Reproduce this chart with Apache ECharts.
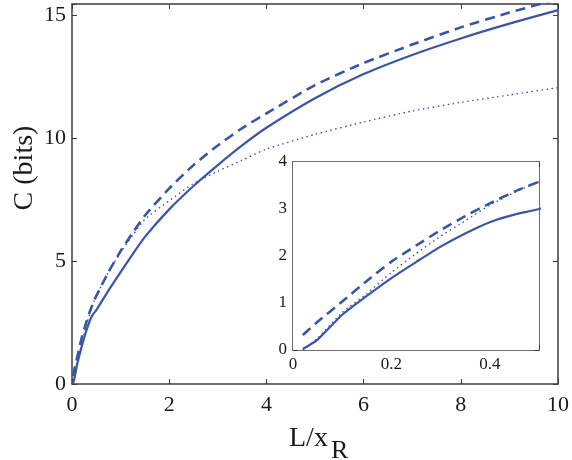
<!DOCTYPE html>
<html lang="en">
<head>
  <meta charset="UTF-8" />
  <title>C (bits) vs L/xR</title>
  <script src="https://cdn.jsdelivr.net/npm/echarts@6/dist/echarts.min.js"></script>
  <style>
    html, body { margin: 0; padding: 0; background: #fff; }
    #main { width: 572px; height: 460px; }
  </style>
</head>
<body>
  <div id="main"></div>
  <script type="text/javascript">
    // L/x_R sample points
    var xs = [0.02, 0.05, 0.1, 0.15, 0.2, 0.25, 0.3, 0.35, 0.4, 0.45, 0.5, 0.75, 1, 1.25, 1.5, 2, 2.5, 3, 3.5, 4, 5, 6, 7, 8, 9, 10];
    // solid curve
    var solidC = [0.02, 0.22, 0.75, 1.15, 1.53, 1.87, 2.2, 2.48, 2.72, 2.88, 3.0, 3.8, 4.55, 5.28, 5.98, 7.1, 8.05, 8.9, 9.7, 10.42, 11.62, 12.6, 13.38, 14.05, 14.65, 15.2];
    // dashed curve
    var dashedC = [0.32, 0.6, 1.03, 1.47, 1.88, 2.22, 2.55, 2.85, 3.12, 3.37, 3.58, 4.55, 5.4, 6.15, 6.85, 7.95, 8.9, 9.7, 10.4, 11.0, 12.15, 13.05, 13.8, 14.5, 15.1, 15.65];
    // dotted curve
    var dottedC = [0.0, 0.25, 0.8, 1.2, 1.65, 2.05, 2.42, 2.75, 3.08, 3.35, 3.58, 4.55, 5.35, 6.05, 6.7, 7.45, 8.15, 8.65, 9.1, 9.55, 10.15, 10.65, 11.1, 11.45, 11.75, 12.05];

    var mainTicksX = [0, 2, 4, 6, 8, 10];
    var mainTicksY = [0, 5, 10, 15];
    var insetTicksX = [0, 0.2, 0.4];
    var insetTicksY = [0, 1, 2, 3, 4];

    var blue = '#3a55a6';
    var axisColor = '#3c3c3c';
    var serif = "'Liberation Serif', 'DejaVu Serif', serif";

    function pairs(ys) {
      return xs.map(function (x, i) { return [x, ys[i]]; });
    }

    function onlyTicks(list) {
      return function (v) {
        for (var i = 0; i < list.length; i++) {
          if (Math.abs(list[i] - v) < 1e-9) return String(list[i]);
        }
        return '';
      };
    }

    function valueAxis(gridIndex, min, max, interval, ticks, fontSize, labelMargin, show) {
      return {
        type: 'value',
        gridIndex: gridIndex,
        min: min,
        max: max,
        interval: interval,
        splitLine: { show: false },
        axisLine: { show: true, onZero: false, lineStyle: { color: axisColor, width: 1.5 } },
        axisTick: { show: true, inside: true, length: 5, lineStyle: { color: axisColor, width: 1 } },
        axisLabel: {
          show: show,
          margin: labelMargin,
          color: '#1a1a1a',
          fontFamily: serif,
          fontSize: fontSize,
          formatter: onlyTicks(ticks)
        }
      };
    }

    var chart = echarts.init(document.getElementById('main'));

    var xAxes = [
      valueAxis(0, 0, 10, 2, mainTicksX, 22, 10, true),
      Object.assign(valueAxis(0, 0, 10, 2, mainTicksX, 22, 10, false), { position: 'top' }),
      valueAxis(1, 0, 0.5, 0.2, insetTicksX, 17, 6, true),
      Object.assign(valueAxis(1, 0, 0.5, 0.2, insetTicksX, 17, 6, false), { position: 'top' })
    ];
    var yAxes = [
      valueAxis(0, 0, 15.45, 5, mainTicksY, 22, 6, true),
      Object.assign(valueAxis(0, 0, 15.45, 5, mainTicksY, 22, 6, false), { position: 'right' }),
      valueAxis(1, 0, 4, 1, insetTicksY, 17, 6, true),
      Object.assign(valueAxis(1, 0, 4, 1, insetTicksY, 17, 6, false), { position: 'right' })
    ];

    function curve(name, ys, axisIdx, lineStyle, z) {
      return {
        name: name,
        type: 'line',
        xAxisIndex: axisIdx,
        yAxisIndex: axisIdx,
        data: pairs(ys),
        showSymbol: false,
        smooth: 0.2,
        clip: true,
        z: z,
        lineStyle: Object.assign({ color: blue }, lineStyle)
      };
    }

    var solidStyle = { width: 2.2, type: 'solid' };
    var dashedStyle = { width: 2.6, type: [10, 6] };
    var dottedStyle = { width: 1.4, type: [1.5, 3.5] };

    var option = {
      animation: false,
      backgroundColor: '#fff',
      grid: [
        { left: 72, right: 9, top: 4, bottom: 76, show: false },
        { left: 293, top: 162, width: 246, height: 188, show: true, backgroundColor: '#fff', borderWidth: 0, z: 5 }
      ],
      xAxis: xAxes,
      yAxis: yAxes,
      series: [
        curve('solid', solidC, 0, solidStyle, 2),
        curve('dashed', dashedC, 0, dashedStyle, 2),
        curve('dotted', dottedC, 0, dottedStyle, 2),
        curve('solid-inset', solidC, 2, solidStyle, 6),
        curve('dashed-inset', dashedC, 2, dashedStyle, 6),
        curve('dotted-inset', dottedC, 2, dottedStyle, 6)
      ],
      graphic: [
        {
          type: 'text', x: 25, y: 168, rotation: Math.PI / 2,
          style: { text: 'C (bits)', font: '28px ' + serif, fill: '#1a1a1a', align: 'center', verticalAlign: 'middle' }
        },
        {
          type: 'text', x: 289, y: 439,
          style: { text: 'L/x', font: '28px ' + serif, fill: '#1a1a1a', align: 'left', verticalAlign: 'middle' }
        },
        {
          type: 'text', x: 331, y: 451,
          style: { text: 'R', font: '26px ' + serif, fill: '#1a1a1a', align: 'left', verticalAlign: 'middle' }
        }
      ]
    };

    chart.setOption(option);
  </script>
</body>
</html>
